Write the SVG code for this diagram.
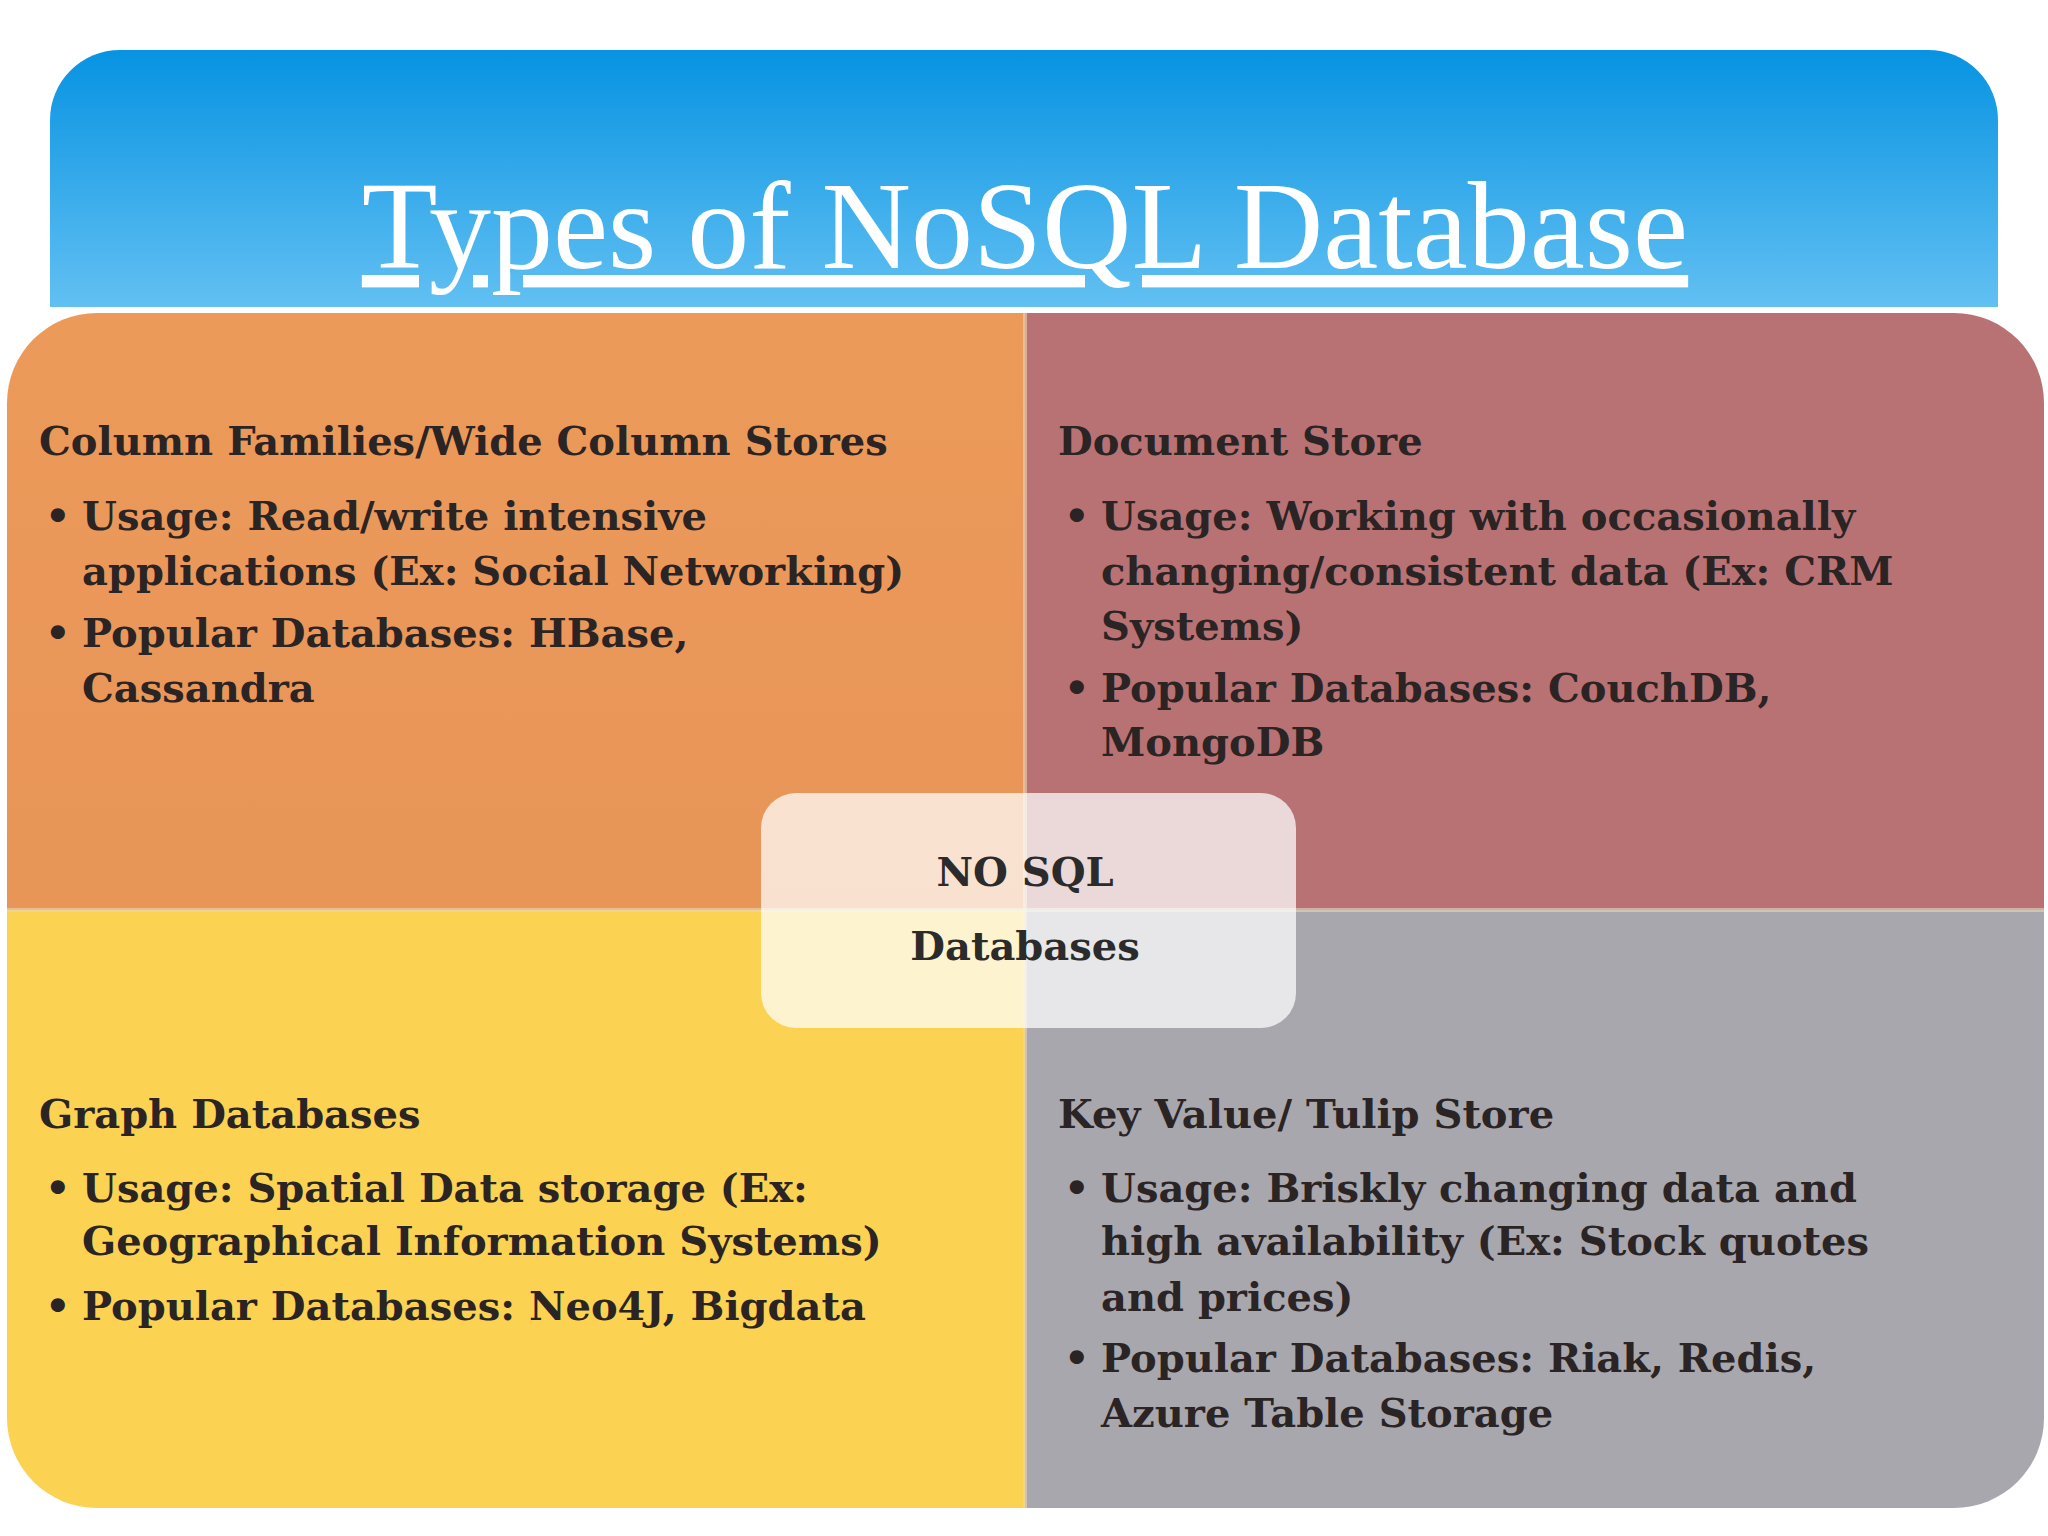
<svg xmlns="http://www.w3.org/2000/svg" width="2048" height="1536" viewBox="0 0 2048 1536">
<defs>
<linearGradient id="hg" x1="0" y1="0" x2="0" y2="1"><stop offset="0" stop-color="#0793e2"/><stop offset="1" stop-color="#62c0f2"/></linearGradient>
<linearGradient id="og" x1="0" y1="0" x2="0" y2="1"><stop offset="0" stop-color="#ec9a5a"/><stop offset="1" stop-color="#e89558"/></linearGradient>
<clipPath id="cp"><rect x="7" y="313" width="2037" height="1195" rx="90"/></clipPath>
<style>
.t{font-family:"DejaVu Serif",serif;font-weight:bold;font-size:40px;fill:#2b2424}
.c{font-family:"DejaVu Serif",serif;font-weight:bold;font-size:40px;fill:#2b2b2b;text-anchor:middle}
</style>
</defs>
<rect width="2048" height="1536" fill="#fff"/>
<g id="header">
<path d="M50 307 V120 a70 70 0 0 1 70 -70 H1928 a70 70 0 0 1 70 70 V307 Z" fill="url(#hg)"/>
<text x="1025" y="268" text-anchor="middle" font-family="Liberation Serif,serif" font-size="124" fill="#fff" text-decoration="underline">Types of NoSQL Database</text>
</g>
<g clip-path="url(#cp)">
<rect id="q1bg" x="7" y="313" width="1018" height="597" fill="url(#og)"/>
<rect x="1025" y="313" width="1019" height="597" fill="#b87274"/>
<rect x="7" y="910" width="1018" height="598" fill="#fbd252"/>
<rect x="1025" y="910" width="1019" height="598" fill="#a9a7ae"/>
<line x1="1025" y1="313" x2="1025" y2="1508" stroke="#e8d8c0" stroke-width="4" opacity="0.6"/>
<line x1="7" y1="910" x2="2044" y2="910" stroke="#e8d8c0" stroke-width="4" opacity="0.6"/>
</g>
<g id="q1">
<text class="t" x="39" y="455">Column Families/Wide Column Stores</text>
<text class="t" x="45" y="530">•</text><text class="t" x="82" y="530">Usage: Read/write intensive</text>
<text class="t" x="82" y="585">applications (Ex: Social Networking)</text>
<text class="t" x="45" y="647">•</text><text class="t" x="82" y="647">Popular Databases: HBase,</text>
<text class="t" x="82" y="702">Cassandra</text>
</g>
<g id="q2">
<text class="t" x="1058" y="455">Document Store</text>
<text class="t" x="1064" y="530">•</text><text class="t" x="1101" y="530">Usage: Working with occasionally</text>
<text class="t" x="1101" y="585">changing/consistent data (Ex: CRM</text>
<text class="t" x="1101" y="640">Systems)</text>
<text class="t" x="1064" y="702">•</text><text class="t" x="1101" y="702">Popular Databases: CouchDB,</text>
<text class="t" x="1101" y="756">MongoDB</text>
</g>
<g id="q3">
<text class="t" x="39" y="1128">Graph Databases</text>
<text class="t" x="45" y="1202">•</text><text class="t" x="82" y="1202">Usage: Spatial Data storage (Ex:</text>
<text class="t" x="82" y="1255">Geographical Information Systems)</text>
<text class="t" x="45" y="1320">•</text><text class="t" x="82" y="1320">Popular Databases: Neo4J, Bigdata</text>
</g>
<g id="q4">
<text class="t" x="1058" y="1128">Key Value/ Tulip Store</text>
<text class="t" x="1064" y="1202">•</text><text class="t" x="1101" y="1202">Usage: Briskly changing data and</text>
<text class="t" x="1101" y="1255">high availability (Ex: Stock quotes</text>
<text class="t" x="1101" y="1311">and prices)</text>
<text class="t" x="1064" y="1372">•</text><text class="t" x="1101" y="1372">Popular Databases: Riak, Redis,</text>
<text class="t" x="1101" y="1427">Azure Table Storage</text>
</g>
<g id="center">
<rect x="761" y="793" width="535" height="235" rx="35" fill="#ffffff" fill-opacity="0.72"/>
<text class="c" x="1025" y="886">NO SQL</text>
<text class="c" x="1025" y="960">Databases</text>
</g>
<g id="connectors"/>
</svg>
